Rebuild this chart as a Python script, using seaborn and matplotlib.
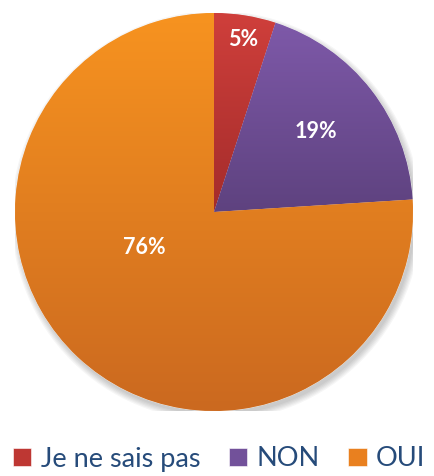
import numpy as np
import matplotlib
matplotlib.use("Agg")
import matplotlib.pyplot as plt
from matplotlib.colors import LinearSegmentedColormap
from matplotlib.patches import Circle
import seaborn as sns

# donnees
categories = ["Je ne sais pas", "NON", "OUI"]
valeurs = [5, 19, 76]
etiquettes = ["5%", "19%", "76%"]

# couleurs (haut -> bas du degrade)
couleurs_haut = ["#CF3F3B", "#7E59A9", "#F7931F"]
couleurs_bas = ["#A42C2B", "#5E427F", "#CB6920"]
couleurs = sns.color_palette(["#BE3733", "#72519A", "#E9801F"])

sns.set_theme(style="white")
plt.rcParams["font.family"] = ["Lato", "DejaVu Sans"]

fig = plt.figure(figsize=(4.34, 4.76), dpi=100)
W, H = 434, 476
cx, cy, r = 214, 212, 199
ax = fig.add_axes([(cx - r) / W, (H - cy - r) / H, 2 * r / W, 2 * r / H])

# ombre legere sous le camembert
for k in range(6):
    ax.add_patch(Circle((0.012, -0.02), 1.0 + 0.006 * k, color="black",
                        alpha=0.035, lw=0, zorder=0))

wedges, textes = ax.pie(valeurs, colors=couleurs, startangle=90, counterclock=False,
                        radius=1, wedgeprops=dict(edgecolor="white", linewidth=0.4, zorder=1))

# degrade vertical dans chaque part
for w, c1, c2 in zip(wedges, couleurs_haut, couleurs_bas):
    bb = w.get_path().get_extents()
    cmap = LinearSegmentedColormap.from_list("g", [c1, c2])
    grad = np.linspace(0, 1, 256).reshape(-1, 1)
    im = ax.imshow(grad, cmap=cmap, aspect="auto", origin="upper",
                   extent=(bb.x0, bb.x1, bb.y0, bb.y1), zorder=2)
    im.set_clip_path(w)

# etiquettes de pourcentage
positions = [(243, 40), (316, 132), (144, 248)]
for (px, py), lab in zip(positions, etiquettes):
    ax.text((px - cx) / r, (cy - py) / r, lab, color="white", fontsize=15.5,
            fontweight="bold", ha="center", va="center", zorder=5)

ax.set_xlim(-1, 1)
ax.set_ylim(-1, 1)
ax.set_aspect("equal")
ax.axis("off")

leg = fig.legend(wedges, categories, loc="center", bbox_to_anchor=(0.505, 1 - 459 / H),
                 ncol=3, frameon=False, fontsize=19.5, handlelength=0.68, handleheight=0.68,
                 handletextpad=0.35, columnspacing=1.05, labelcolor="#264B7A",
                 borderpad=0, borderaxespad=0)

fig.savefig("out.png", dpi=100)
